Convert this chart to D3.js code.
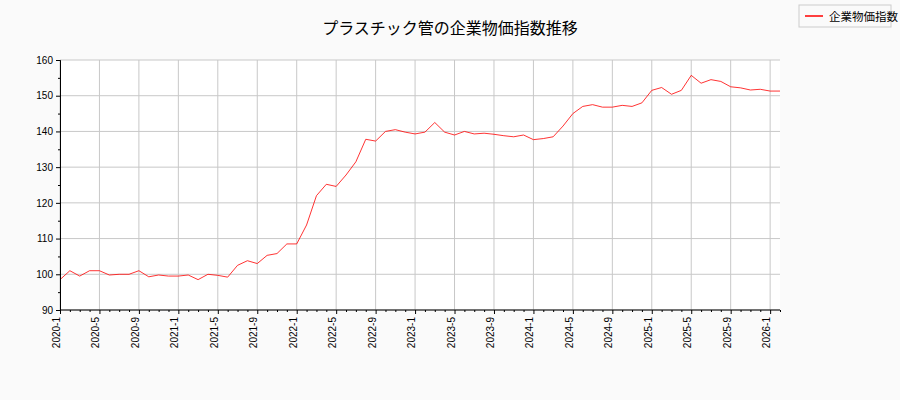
<!DOCTYPE html>
<html lang="ja">
<head>
<meta charset="utf-8">
<script src="https://d3js.org/d3.v7.min.js"></script>
<style>
body{margin:0;background:#fafafa;font-family:"DejaVu Sans","Noto Sans CJK JP",sans-serif;}
.grid line{stroke:#c8c8c8;}
.axis text{font-size:10px;}
</style>
</head>
<body>
<svg id="chart" width="900" height="400"></svg>
<script>
// 企業物価指数, monthly 2020-1 .. 2026-2
var startYear = 2020
var values = [
  98.5,101,99.5,101,101,99.8,100,100,101,99.3,99.8,99.5,
  99.5,99.8,98.5,100,99.7,99.2,102.5,103.8,103,105.3,105.8,108.5,
  108.5,113.8,122,125.2,124.6,127.8,131.5,137.8,137.3,140,140.5,139.8,
  139.3,139.8,142.5,139.8,139,140,139.3,139.5,139.2,138.8,138.5,139,
  137.7,138,138.5,141.5,145,147,147.5,146.8,146.8,147.3,147,148,
  151.5,152.3,150.4,151.5,155.7,153.5,154.5,154,152.5,152.2,151.6,151.8,
  151.3,151.3
]
var yTicks = [90,100,110,120,130,140,150,160]
var title = "プラスチック管の企業物価指数推移"
var seriesName = "企業物価指数"

var svg = d3.select("#chart")
var pl = 60, pr = 780, pt = 60, pb = 310

svg.append("rect").attr("x",pl).attr("y",pt).attr("width",pr-pl).attr("height",pb-pt).attr("fill","#fff")

var x = d3.scaleLinear().domain([0, 73]).range([pl, 780])
var y = d3.scaleLinear().domain([90,160]).range([pb, pt])

var xt = d3.range(0, 74, 4)
function lab(i){ return (startYear + Math.floor(i/12)) + "-" + (i%12+1) }

svg.append("g").attr("class","grid").selectAll("line").data(xt).enter().append("line")
  .attr("x1",d=>x(d)).attr("x2",d=>x(d)).attr("y1",pt).attr("y2",pb)
svg.append("g").attr("class","grid").selectAll("line").data(yTicks).enter().append("line")
  .attr("x1",pl).attr("x2",pr).attr("y1",d=>y(d)).attr("y2",d=>y(d))

svg.append("path").datum(values)
  .attr("fill","none").attr("stroke","red").attr("stroke-width",0.8)
  .attr("d", d3.line().x((d,i)=>x(i)).y(d=>y(d)))

svg.append("g").attr("class","axis").attr("transform","translate("+pl+",0)")
  .call(d3.axisLeft(y).tickValues(yTicks).tickSize(4).tickSizeOuter(0))
svg.append("g").attr("class","axis").attr("transform","translate("+pl+",0)")
  .call(d3.axisLeft(y).tickValues(d3.range(95,160,10)).tickSize(2).tickFormat(""))
var xa = svg.append("g").attr("class","axis").attr("transform","translate(0,"+pb+")")
  .call(d3.axisBottom(x).tickValues(xt).tickFormat(lab).tickSize(4).tickSizeOuter(0))
xa.select(".domain").attr("d","M"+pl+",0H"+pr)
xa.selectAll("text").attr("transform","rotate(-90)").attr("text-anchor","end")
  .attr("x",-7).attr("y",-4).attr("dy","0.35em")
svg.append("g").attr("class","axis").attr("transform","translate(0,"+pb+")")
  .call(d3.axisBottom(x).tickValues(d3.range(0,74,1).filter(i=>i%4)).tickSize(2).tickFormat(""))
  .select(".domain").remove()

svg.append("text").attr("x",450).attr("y",34).attr("text-anchor","middle")
  .attr("font-size",16).text(title)

var lg = svg.append("g")
lg.append("rect").attr("x",799).attr("y",5).attr("width",92).attr("height",22)
  .attr("fill","#fafafa").attr("stroke","#ccc")
lg.append("line").attr("x1",805).attr("x2",823).attr("y1",16).attr("y2",16).attr("stroke","red").attr("stroke-width",1.5)
lg.append("text").attr("x",829).attr("y",20.5).attr("font-size",11.5).text(seriesName)
</script>
</body>
</html>
